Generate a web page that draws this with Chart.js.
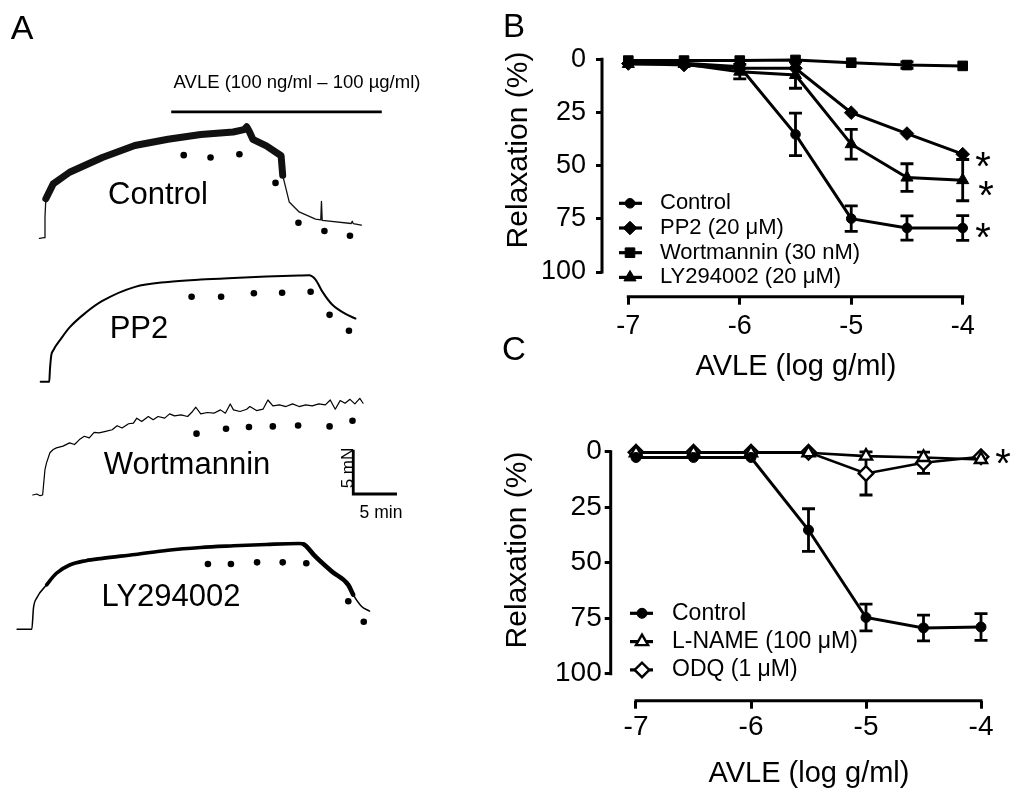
<!DOCTYPE html>
<html>
<head>
<meta charset="utf-8">
<script src="https://cdn.jsdelivr.net/npm/chart.js@4.4.1/dist/chart.umd.min.js"></script>
<style>
html,body{margin:0;padding:0;background:#fff}
body{width:1024px;height:795px;position:relative;overflow:hidden;font-family:"Liberation Sans",Arial,sans-serif;color:#000}
canvas{position:absolute}
.t{position:absolute;white-space:nowrap;line-height:1;transform:translate(-50%,-50%)}
.v{position:absolute;white-space:nowrap;line-height:1;transform:translate(-50%,-50%) rotate(-90deg)}
.ast{position:absolute;white-space:nowrap;line-height:1;font-size:40px;transform:translate(-50%,-27.6%)}
</style>
</head>
<body>
<canvas id="traces" style="left:0px;top:0px" width="490" height="795"></canvas>
<canvas id="chartB" style="left:490px;top:0px" width="534" height="390"></canvas>
<canvas id="chartC" style="left:490px;top:390px" width="534" height="405"></canvas>

<div class="t" style="left:22px;top:27px;font-size:34px">A</div>
<div class="t" style="left:514px;top:25px;font-size:33px">B</div>
<div class="t" style="left:514px;top:348px;font-size:33px">C</div>

<div class="t" style="left:297px;top:82px;font-size:18.5px">AVLE (100 ng/ml – 100 µg/ml)</div>
<div class="t" style="left:158px;top:193px;font-size:31px">Control</div>
<div class="t" style="left:139px;top:327px;font-size:31px">PP2</div>
<div class="t" style="left:187px;top:463px;font-size:31px">Wortmannin</div>
<div class="t" style="left:171px;top:595px;font-size:31px">LY294002</div>
<div class="v" style="left:347px;top:468px;font-size:17px">5 mN</div>
<div class="t" style="left:381px;top:513px;font-size:17.5px">5 min</div>

<div class="v" style="left:517px;top:150px;font-size:30px">Relaxation (%)</div>
<div class="t" style="left:796px;top:365px;font-size:29px">AVLE (log g/ml)</div>
<div class="v" style="left:516px;top:550px;font-size:30px">Relaxation (%)</div>
<div class="t" style="left:809px;top:772px;font-size:29px">AVLE (log g/ml)</div>

<div class="ast" style="left:983px;top:157px">*</div>
<div class="ast" style="left:986px;top:186px">*</div>
<div class="ast" style="left:983px;top:228px">*</div>
<div class="ast" style="left:1003px;top:454px">*</div>

<script>
// ---- Panel A: tension traces (time in min, tension in mN above each trace's baseline)
const ctrlT = [0, 0.58, 0.66, 0.76, 1.63, 3.57, 7.44, 11.28, 15.2, 19.07, 22.9, 24.19, 24.5, 24.77, 25.23, 26.83, 28.57, 28.76, 29.53, 30.7, 32.64, 33.26, 33.34, 33.43, 36.86, 36.98, 37.09, 38.06];
const ctrlF = [0, 0.08, 2.5, 4.65, 6.4, 7.76, 9.5, 10.9, 11.63, 12.2, 12.49, 12.76, 13.1, 12.64, 11.63, 10.86, 9.7, 7.4, 4.27, 3.1, 2.26, 2.17, 4.35, 2.1, 1.74, 2.0, 1.73, 1.56];
const pp2T = [0.15, 1.16, 1.24, 1.4, 1.63, 2.56, 3.57, 5.5, 7.44, 11.31, 15.2, 19.07, 22.94, 26.83, 30.7, 31.86, 32.64, 33.41, 34.57, 36.13, 37.36];
const pp2F = [0, 0, 1.36, 3.1, 3.69, 5.08, 6.4, 8.14, 9.5, 11.16, 11.74, 12.02, 12.21, 12.37, 12.49, 12.52, 12.02, 10.66, 9.12, 8.02, 7.44];
const wortT = [-0.78, -0.31, 0.08, 0.38, 0.66, 0.85, 1.24, 1.63, 2.01, 2.79, 3.57, 4.15, 4.73, 5.31, 5.89, 6.47, 7.05, 7.83, 8.6, 9.19, 9.77, 10.54, 11.12, 11.51, 12.09, 12.87, 13.45, 14.03, 14.81, 15.39, 15.97, 16.74, 17.52, 18.1, 18.49, 19.07, 19.85, 20.62, 21.4, 21.98, 22.56, 22.94, 23.72, 24.5, 24.88, 25.66, 26.43, 27.01, 27.6, 28.37, 29.15, 29.92, 30.7, 31.48, 32.25, 33.02, 33.8, 34.38, 34.97, 35.55, 36.13, 36.71, 37.29, 37.87, 38.26];
const wortF = [0, 0.12, -0.08, 0, 3.02, 3.8, 4.96, 5.35, 5.54, 5.74, 6.12, 5.93, 6.51, 6.9, 6.71, 7.36, 7.29, 7.48, 7.67, 8.14, 7.87, 8.37, 8.45, 9.03, 8.64, 9.22, 8.84, 9.22, 9.03, 9.53, 9.3, 9.42, 9.22, 9.81, 10.31, 9.53, 9.69, 9.61, 10.0, 9.61, 10.7, 10.0, 9.81, 10.08, 10.39, 9.92, 10.08, 11.16, 10.47, 10.58, 10.39, 10.7, 10.39, 10.58, 10.47, 10.7, 10.58, 11.16, 10.08, 11.09, 10.78, 11.24, 10.7, 11.36, 10.78];
const lyT = [-2.64, -0.9, -0.7, -0.31, 0.85, 2.01, 3.57, 5.5, 7.44, 11.31, 15.2, 19.07, 22.94, 26.83, 30.7, 31.28, 32.64, 34.57, 36.51, 37.09, 38.06, 39.03];
const lyF = [0, 0, 2.52, 3.69, 5.23, 6.59, 7.56, 8.07, 8.34, 8.8, 9.3, 9.62, 9.81, 9.97, 10.08, 9.97, 8.53, 6.79, 5.23, 4.07, 2.72, 2.14];

// additions of AVLE (dots under each trace)
const ctrlDotT = [17.06, 20.23, 23.64, 27.91, 30.62, 33.69, 36.71];
const ctrlDotF = [9.77, 9.5, 9.88, 6.51, 1.83, 0.86, 0.31];
const pp2DotT = [17.99, 21.48, 25.35, 28.69, 32.06, 34.3, 36.59];
const pp2DotF = [10.0, 10.0, 10.4, 10.47, 10.58, 7.87, 6.01];
const wortDotT = [18.57, 22.06, 24.77, 27.59, 30.58, 34.3, 37.01];
const wortDotF = [7.21, 7.79, 7.99, 8.06, 8.17, 8.06, 8.72];
const lyDotT = [19.92, 22.64, 25.73, 28.76, 31.55, 36.51, 38.34];
const lyDotF = [7.67, 7.67, 7.87, 7.87, 7.76, 3.3, 0.9];

// AVLE application bar and 5 mN / 5 min scale bar
const avleBarT = [15.58, 40.47];
const avleBarF = [14.85, 14.85];
const scaleBarT = [37.1, 37.1, 42.1];
const scaleBarF = [5.15, 0.12, 0.12];

// ---- Panels B and C: concentration-response (log g/ml vs % relaxation)
const doses = [-7, -6.5, -6, -5.5, -5, -4.5, -4];
const xTicks = [-7, -6, -5, -4];
const yTicks = [0, 25, 50, 75, 100];

const bLabels = ['Control', 'PP2 (20 μM)', 'Wortmannin (30 nM)', 'LY294002 (20 μM)'];
const bControl = [1.6, 1.9, 3.5, 35.3, 74.9, 79.3, 79.3];
const bControlErr = [0, 0, 0, 10, 6, 5.7, 5.8];
const bPP2 = [2, 2.7, 4.2, 4.2, 25.1, 34.9, 44.6];
const bPP2Err = [0, 0, 0, 0, 0, 0, 0];
const bWort = [0.6, 0.6, 0.6, 0.3, 1.6, 2.7, 3.1];
const bWortErr = [0, 0, 0, 0, 0, 1.5, 0];
const bLY = [2.2, 2.2, 5.8, 7.4, 39.9, 55.6, 56.8];
const bLYErr = [0, 0, 3.4, 6.2, 7, 6.5, 9.7];

const cLabels = ['Control', 'L-NAME (100 μM)', 'ODQ (1 μM)'];
const cControl = [2.6, 2.6, 2.6, 35.3, 74.7, 79.4, 79];
const cControlErr = [0, 0, 0, 9.6, 6, 5.8, 6];
const cLNAME = [0.5, 0.5, 0.5, 0.5, 2, 2.6, 3.5];
const cLNAMEErr = [0, 0, 0, 0, 0, 0, 0];
const cODQ = [0.3, 0.3, 0.3, 0.3, 9.8, 5, 2.3];
const cODQErr = [0, 0, 0, 0, 9.7, 4.8, 0];

Chart.defaults.font.family = '"Liberation Sans", Arial, sans-serif';
Chart.defaults.color = '#000';

const xy = (xs, ys) => xs.map((x, i) => ({x, y: ys[i]}));

// ---------- panel A
const PX = 8.6;           // px per min and per mN
const aW = 490, aH = 795, aX0 = 36;
const baseRow = {yCtrl: 236.7, yPP2: 381.7, yWort: 496, yLY: 631.7};
const aScales = {x: {type: 'linear', display: false, min: -aX0 / PX, max: (aW - aX0) / PX}};
for (const [id, row] of Object.entries(baseRow)) {
  aScales[id] = {type: 'linear', display: false, min: (row - aH) / PX, max: row / PX};
}
const widthBy = (ranges, def) => c => {
  const t = c.p0.parsed.x;
  for (const r of ranges) if (t >= r[0] && t < r[1]) return r[2];
  return def;
};
const trace = (xs, ys, axis, w, extra) => Object.assign({data: xy(xs, ys), yAxisID: axis, borderColor: '#000', borderWidth: w, pointRadius: 0, fill: false, borderJoinStyle: 'round', borderCapStyle: 'round'}, extra || {});
const dots = (xs, ys, axis) => ({data: xy(xs, ys), yAxisID: axis, showLine: false, pointRadius: 3.3, pointBorderWidth: 0, pointBackgroundColor: '#000'});

new Chart(document.getElementById('traces'), {
  type: 'line',
  data: {datasets: [
    trace(ctrlT, ctrlF, 'yCtrl', 1.3, {borderColor: '#111', segment: {borderWidth: widthBy([[0.76, 28.76, 7]], 1.3)}}),
    trace(pp2T, pp2F, 'yPP2', 2, {cubicInterpolationMode: 'monotone'}),
    trace(wortT, wortF, 'yWort', 1.2),
    trace(lyT, lyF, 'yLY', 1.5, {cubicInterpolationMode: 'monotone', segment: {borderWidth: widthBy([[0.85, 31.28, 3.6], [31.28, 37.09, 4.6]], 1.5)}}),
    dots(ctrlDotT, ctrlDotF, 'yCtrl'),
    dots(pp2DotT, pp2DotF, 'yPP2'),
    dots(wortDotT, wortDotF, 'yWort'),
    dots(lyDotT, lyDotF, 'yLY'),
    trace(avleBarT, avleBarF, 'yCtrl', 2.6, {borderCapStyle: 'butt'}),
    trace(scaleBarT, scaleBarF, 'yWort', 2.8, {borderJoinStyle: 'miter', borderCapStyle: 'square'})
  ]},
  options: {
    responsive: false, animation: false, events: [],
    layout: {padding: 0},
    plugins: {legend: {display: false}, tooltip: {enabled: false}},
    scales: aScales
  }
});

// ---------- panels B, C
const prismAxes = {
  id: 'prismAxes',
  afterDraw(chart) {
    const {ctx, chartArea: a, scales: {x, y}} = chart;
    ctx.save();
    ctx.strokeStyle = '#000'; ctx.lineWidth = 3; ctx.lineCap = 'square';
    ctx.beginPath();
    ctx.moveTo(a.left, y.getPixelForValue(yTicks[0]));
    ctx.lineTo(a.left, y.getPixelForValue(yTicks[yTicks.length - 1]));
    ctx.moveTo(x.getPixelForValue(xTicks[0]), a.bottom);
    ctx.lineTo(x.getPixelForValue(xTicks[xTicks.length - 1]), a.bottom);
    ctx.stroke();
    ctx.restore();
  }
};

const errorBars = {
  id: 'errorBars',
  beforeDatasetsDraw(chart) {
    const {ctx, scales: {y}} = chart;
    ctx.save();
    ctx.strokeStyle = '#000'; ctx.lineWidth = 2.8;
    chart.data.datasets.forEach((ds, i) => {
      chart.getDatasetMeta(i).data.forEach((pt, j) => {
        const e = ds.err[j];
        if (!e) return;
        const v = ds.data[j].y, y1 = y.getPixelForValue(v - e), y2 = y.getPixelForValue(v + e), cw = 6.5;
        ctx.beginPath();
        ctx.moveTo(pt.x, y1); ctx.lineTo(pt.x, y2);
        ctx.moveTo(pt.x - cw, y1); ctx.lineTo(pt.x + cw, y1);
        ctx.moveTo(pt.x - cw, y2); ctx.lineTo(pt.x + cw, y2);
        ctx.stroke();
      });
    });
    ctx.restore();
  }
};

const prismLegend = {
  id: 'prismLegend',
  afterDraw(chart, args, o) {
    const ctx = chart.ctx;
    chart.data.datasets.forEach((ds, i) => {
      const yy = o.y0 + i * o.dy;
      ctx.save();
      ctx.strokeStyle = '#000'; ctx.lineWidth = 3.2;
      ctx.beginPath(); ctx.moveTo(o.x1, yy); ctx.lineTo(o.x2, yy); ctx.stroke();
      ctx.fillStyle = ds.pointBackgroundColor; ctx.lineWidth = ds.pointBorderWidth;
      Chart.helpers.drawPoint(ctx, {pointStyle: ds.pointStyle, radius: ds.pointRadius, borderWidth: ds.pointBorderWidth, rotation: 0}, o.xm, yy);
      ctx.fillStyle = '#000';
      ctx.font = o.size + 'px "Liberation Sans", Arial, sans-serif';
      ctx.textBaseline = 'middle'; ctx.textAlign = 'left';
      ctx.fillText(ds.label, o.tx, yy);
      ctx.restore();
    });
  }
};

const series = (label, vals, err, style, r, open, w) => ({
  label, data: xy(doses, vals), err,
  borderColor: '#000', backgroundColor: '#000', borderWidth: w || 3,
  pointStyle: style, pointRadius: r,
  pointBackgroundColor: open ? '#fff' : '#000', pointBorderColor: '#000',
  pointBorderWidth: open ? 2.4 : 1, clip: false, fill: false
});

function doseChart(id, datasets, g) {
  return new Chart(document.getElementById(id), {
    type: 'line',
    data: {datasets},
    options: {
      responsive: false, animation: false, events: [],
      layout: {padding: {left: 0, top: g.top, right: g.right, bottom: 0}},
      plugins: {legend: {display: false}, tooltip: {enabled: false}, prismLegend: g.legend},
      scales: {
        x: {
          type: 'linear', min: g.xMin, max: g.xMax,
          afterBuildTicks: s => { s.ticks = xTicks.map(v => ({value: v})); },
          afterFit: s => { s.height = g.xH; },
          ticks: {font: {size: g.tick}, padding: g.xPad, color: '#000'},
          grid: {drawOnChartArea: false, drawTicks: true, tickLength: 8, color: '#000', lineWidth: 3},
          border: {display: false}
        },
        y: {
          type: 'linear', reverse: true, min: 0, max: g.yMax,
          afterBuildTicks: s => { s.ticks = yTicks.map(v => ({value: v})); },
          afterFit: s => { s.width = g.yW; },
          ticks: {font: {size: g.tick}, padding: g.yPad, color: '#000'},
          grid: {drawOnChartArea: false, drawTicks: true, tickLength: 6, color: '#000', lineWidth: 3},
          border: {display: false}
        }
      }
    },
    plugins: [errorBars, prismAxes, prismLegend]
  });
}

doseChart('chartB', [
  series(bLabels[0], bControl, bControlErr, 'circle', 4.8),
  series(bLabels[1], bPP2, bPP2Err, 'rectRot', 6.8),
  series(bLabels[2], bWort, bWortErr, 'rect', 6.8),
  series(bLabels[3], bLY, bLYErr, 'triangle', 7)
], {top: 59.3, right: 35, xMin: -7.236, xMax: -3.764, yMax: 111.6, xH: 93.3, yW: 112, tick: 27, xPad: 6, yPad: 10,
    legend: {x1: 129, x2: 152, xm: 140, tx: 170, y0: 203.3, dy: 24.7, size: 22}});

doseChart('chartC', [
  series(cLabels[0], cControl, cControlErr, 'circle', 5),
  series(cLabels[1], cLNAME, cLNAMEErr, 'triangle', 7, true, 2.6),
  series(cLabels[2], cODQ, cODQErr, 'rectRot', 7.3, true, 2.6)
], {top: 61.7, right: 17.7, xMin: -7.22, xMax: -3.78, yMax: 112.2, xH: 94.3, yW: 120.7, tick: 28, xPad: 2, yPad: 3,
    legend: {x1: 140, x2: 163, xm: 152, tx: 182, y0: 223.3, dy: 28.3, size: 23}});
</script>
</body>
</html>
